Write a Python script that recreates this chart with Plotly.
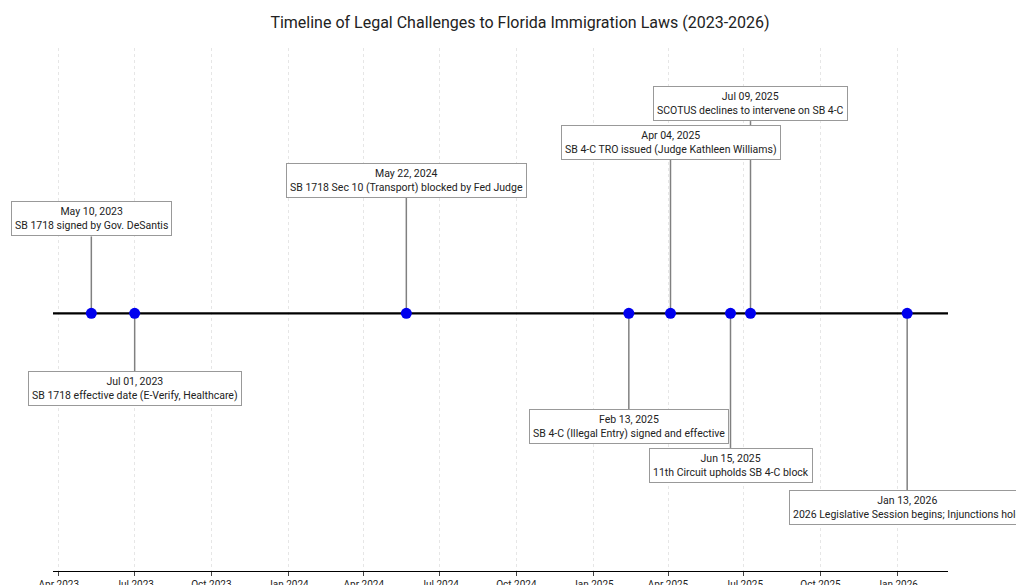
import plotly.graph_objects as go

dates = ["2023-05-10", "2023-07-01", "2024-05-22", "2025-02-13", "2025-04-04", "2025-06-15", "2025-07-09", "2026-01-13"]
date_labels = ["May 10, 2023", "Jul 01, 2023", "May 22, 2024", "Feb 13, 2025", "Apr 04, 2025", "Jun 15, 2025", "Jul 09, 2025", "Jan 13, 2026"]
events = [
    "SB 1718 signed by Gov. DeSantis",
    "SB 1718 effective date (E-Verify, Healthcare)",
    "SB 1718 Sec 10 (Transport) blocked by Fed Judge",
    "SB 4-C (Illegal Entry) signed and effective",
    "SB 4-C TRO issued (Judge Kathleen Williams)",
    "11th Circuit upholds SB 4-C block",
    "SCOTUS declines to intervene on SB 4-C",
    "2026 Legislative Session begins; Injunctions hold",
]
heights = [1.0, -0.75, 1.5, -1.25, 2.0, -1.75, 2.5, -2.3]
tick_vals = ["2023-04-01", "2023-07-01", "2023-10-01", "2024-01-01", "2024-04-01", "2024-07-01",
             "2024-10-01", "2025-01-01", "2025-04-01", "2025-07-01", "2025-10-01", "2026-01-01"]
tick_text = ["Apr 2023", "Jul 2023", "Oct 2023", "Jan 2024", "Apr 2024", "Jul 2024",
             "Oct 2024", "Jan 2025", "Apr 2025", "Jul 2025", "Oct 2025", "Jan 2026"]
x_range = ["2023-03-25", "2026-03-03"]

fig = go.Figure()
sx, sy = [], []
for d, h in zip(dates, heights):
    sx += [d, d, None]
    sy += [0, h, None]
fig.add_trace(go.Scatter(x=sx, y=sy, mode="lines", line=dict(color="#808080", width=1.5), hoverinfo="skip"))
fig.add_trace(go.Scatter(x=x_range, y=[0, 0], mode="lines", line=dict(color="black", width=2.2), hoverinfo="skip"))
fig.add_trace(go.Scatter(x=dates, y=[0]*len(dates), mode="markers",
                         marker=dict(color="#0000ee", size=11)))

for d, lab, ev, h in zip(dates, date_labels, events, heights):
    fig.add_annotation(x=d, y=h, text=f"{lab}<br>{ev}", showarrow=False,
                       yanchor="bottom" if h > 0 else "top",
                       bgcolor="white", bordercolor="#999999", borderwidth=1, borderpad=3,
                       font=dict(size=10.5, color="#222222"))

fig.update_layout(
    width=1024, height=585,
    margin=dict(l=45, r=84, t=40, b=22, autoexpand=False),
    plot_bgcolor="white", paper_bgcolor="white",
    showlegend=False,
    font=dict(family="Roboto", color="#222222"),
    title=dict(text="Timeline of Legal Challenges to Florida Immigration Laws (2023-2026)",
               x=0.5, xanchor="center", y=0.985, yanchor="top", font=dict(size=16, color="#222222")),
    xaxis=dict(range=x_range, tickvals=tick_vals, ticktext=tick_text, showgrid=True,
               gridcolor="#e6e6e6", griddash="dot", gridwidth=1, showline=True, linecolor="black",
               ticks="outside", ticklen=4, tickfont=dict(size=10), zeroline=False),
    yaxis=dict(range=[-3.35, 3.45], visible=False),
)
fig.write_html("out.html")
